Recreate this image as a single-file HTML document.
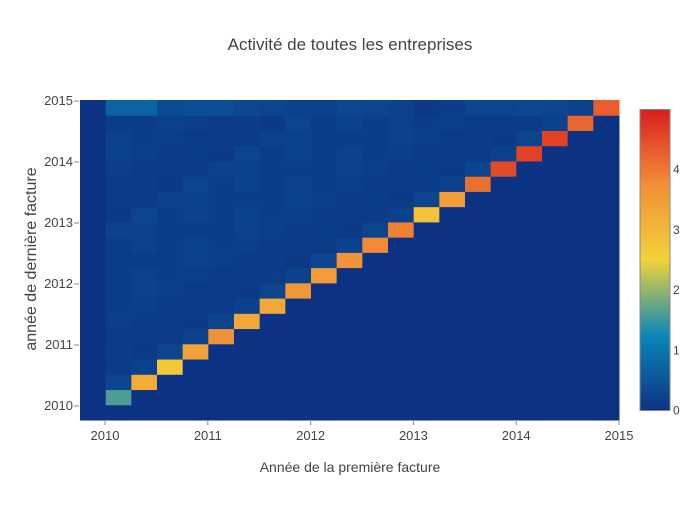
<!DOCTYPE html>
<html><head><meta charset="utf-8"><style>
body{margin:0;background:#fff;}
svg text{font-family:"Liberation Sans","DejaVu Sans",sans-serif;fill:#444;}
</style></head><body>
<svg id="chart" width="700" height="500">
<text x="350" y="50" text-anchor="middle" font-size="17">Activité de toutes les entreprises</text>
<g id="cells"></g>
<g id="xaxis"></g>
<g id="yaxis"></g>
<text x="350" y="472" text-anchor="middle" font-size="14">Année de la première facture</text>
<text transform="translate(36,259) rotate(-90)" text-anchor="middle" font-size="16">année de dernière facture</text>
<defs><linearGradient id="cbgrad" x1="0" y1="1" x2="0" y2="0">
<stop offset="0" stop-color="rgb(12,51,131)"/><stop offset="0.25" stop-color="rgb(10,136,186)"/>
<stop offset="0.5" stop-color="rgb(242,211,56)"/><stop offset="0.75" stop-color="rgb(242,143,56)"/>
<stop offset="1" stop-color="rgb(217,30,30)"/></linearGradient></defs>
<rect x="640" y="109.5" width="30" height="301" fill="url(#cbgrad)" stroke="#888" stroke-width="1"/>
<g id="cbticks"></g>
</svg>
<script>
const xTicks=[2010,2011,2012,2013,2014,2015];
const yTicks=[2010,2011,2012,2013,2014,2015];
const cbTicks=[0,1,2,3,4];
const diag=[1.6,3.2,2.7,3.4,3.7,3.3,3.3,3.6,3.5,3.7,3.8,3.9,2.8,3.5,4.1,4.5,4.6,4.6,4.2,4.3];
const topRow=[0.7,0.7,0.35,0.4,0.4,0.3,0.25,0.2,0.2,0.3,0.25,0.2,0.1,0.15,0.25,0.25,0.3,0.25,0.2];
const offDiag=[0.15,0.2,0.12,0.22,0.15,0.18,0.1,0.2,0.14,0.12,0.2,0.15,0.13,0.25,0.15,0.18,0.12,0.14,0.2,0.15];
const zmin=0, zmax=5;
const nCols=21, nRows=21;
const z=[];
for(let r=0;r<nRows;r++){const row=[];for(let c=0;c<nCols;c++){
 let v=0;
 if(c>0&&r===c) v=diag[c-1];
 else if(c>0&&r>c){ v = r===20 ? topRow[c-1] : offDiag[(r*3+c*7)%offDiag.length]; }
 row.push(v);} z.push(row);}
const X0=80,X1=619,Y0=100,Y1=420;
const xScale=v=>105+(v-2010)*102.8;
const yScale=v=>406-(v-2010)*61;
const cw=(X1-X0)/nCols, rh=(Y1-Y0)/nRows;
const stops=[[0,[12,51,131]],[0.25,[10,136,186]],[0.5,[242,211,56]],[0.75,[242,143,56]],[1,[217,30,30]]];
function color(v){let t=Math.max(0,Math.min(1,(v-zmin)/(zmax-zmin)));
 for(let i=1;i<stops.length;i++){if(t<=stops[i][0]){const a=stops[i-1],b=stops[i],f=(t-a[0])/(b[0]-a[0]);
 return 'rgb('+a[1].map((x,k)=>Math.round(x+(b[1][k]-x)*f)).join(',')+')';}}return 'rgb(217,30,30)';}
const NS='http://www.w3.org/2000/svg';
const cells=document.getElementById('cells');
for(let r=0;r<nRows;r++)for(let c=0;c<nCols;c++){
 const el=document.createElementNS(NS,'rect');
 
 
 el.setAttribute('x',X0+c*cw);el.setAttribute('y',Y1-(r+1)*rh);
 el.setAttribute('width',cw+0.5);el.setAttribute('height',rh+0.5);
 el.setAttribute('fill',color(z[r][c]));cells.appendChild(el);}
const xa=document.getElementById('xaxis');
xTicks.forEach(t=>{const x=xScale(t);
 const l=document.createElementNS(NS,'line');
 
 
 l.setAttribute('x1',x);l.setAttribute('x2',x);l.setAttribute('y1',421);l.setAttribute('y2',425);l.setAttribute('stroke','#888');xa.appendChild(l);
 const tx=document.createElementNS(NS,'text');
 
 
 tx.setAttribute('x',x);tx.setAttribute('y',440);tx.setAttribute('text-anchor','middle');tx.setAttribute('font-size','13');tx.textContent=t;xa.appendChild(tx);});
const ya=document.getElementById('yaxis');
yTicks.forEach(t=>{const y=yScale(t);
 const l=document.createElementNS(NS,'line');
 
 
 l.setAttribute('x1',74);l.setAttribute('x2',79);l.setAttribute('y1',y);l.setAttribute('y2',y);l.setAttribute('stroke','#888');ya.appendChild(l);
 const tx=document.createElementNS(NS,'text');
 
 
 tx.setAttribute('x',73);tx.setAttribute('y',y+4);tx.setAttribute('text-anchor','end');tx.setAttribute('font-size','13');tx.textContent=t;ya.appendChild(tx);});
const cb=document.getElementById('cbticks');
cbTicks.forEach(t=>{const y=410.5-(t-zmin)/(zmax-zmin)*301;
 const tx=document.createElementNS(NS,'text');
 
 
 tx.setAttribute('x',673);tx.setAttribute('y',y+4);tx.setAttribute('font-size','12');tx.textContent=t;cb.appendChild(tx);});
</script>
</body></html>
